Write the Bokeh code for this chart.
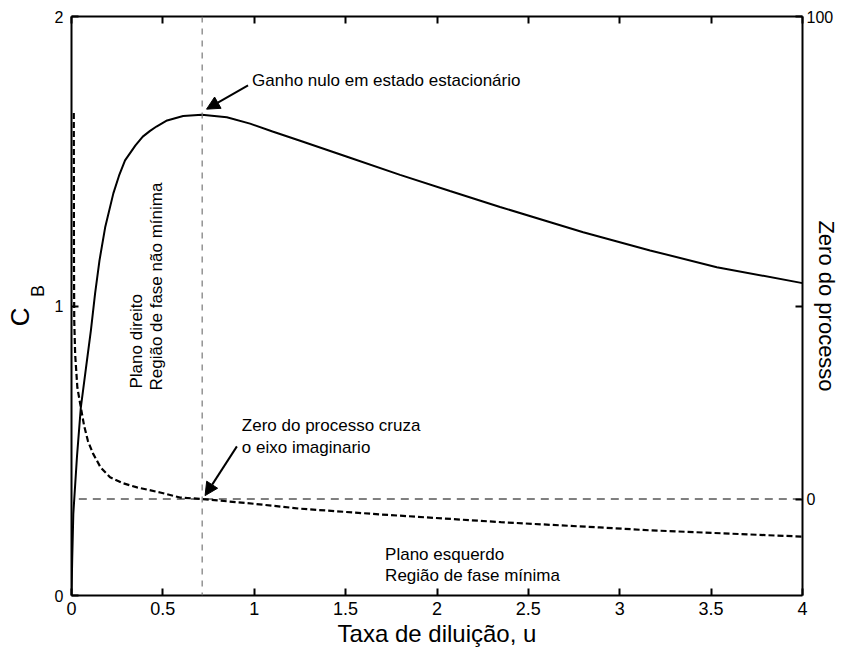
import math
from bokeh.plotting import figure
from bokeh.models import Range1d, LinearAxis, FixedTicker, Label, Arrow, NormalHead, Span
from bokeh.embed import file_html
from bokeh.resources import INLINE

FONT = "Liberation Sans"
NBSP = "\u00a0"

# ---- data ----
u_cb = [0.0, 0.004, 0.010, 0.030, 0.051, 0.080, 0.106, 0.129, 0.153, 0.184, 0.229,
        0.260, 0.293, 0.350, 0.390, 0.430, 0.465, 0.523, 0.611, 0.713, 0.850, 0.977,
        1.100, 1.251, 1.524, 1.798, 2.071, 2.345, 2.800, 3.166, 3.531, 4.0]
cb = [0.0, 0.13, 0.283, 0.48, 0.649, 0.79, 0.915, 1.043, 1.157, 1.271, 1.389,
      1.450, 1.503, 1.555, 1.585, 1.605, 1.620, 1.641, 1.656, 1.661, 1.652, 1.630,
      1.603, 1.571, 1.512, 1.453, 1.397, 1.342, 1.255, 1.192, 1.134, 1.079]

u_zero = [0.0125, 0.0135, 0.015, 0.020, 0.032, 0.051, 0.069, 0.090, 0.118, 0.160,
          0.211, 0.280, 0.359, 0.485, 0.594, 0.715, 1.0, 1.25, 1.69, 2.35, 2.89, 3.17, 4.0]
zero = [80.0, 50.0, 37.0, 30.0, 23.1, 19.0, 15.2, 12.0, 9.4, 6.5,
        4.5, 3.3, 2.4, 1.35, 0.3, 0.0, -1.0, -2.0, -3.2, -4.8, -5.9, -6.5, -7.8]

x_ticks = [0, 0.5, 1, 1.5, 2, 2.5, 3, 3.5, 4]
x_tick_labels = ["0", "0.5", "1", "1.5", "2", "2.5", "3", "3.5", "4"]
left_ticks = [0, 1, 2]
right_ticks = [0, 40, 100]
right_tick_labels = {0: "0", 40: "", 100: "100"}

u_crit = 0.715          # u where gain is zero / zero crosses the imaginary axis
zero_level = 0.0

# ---- figure ----
p = figure(frame_width=731, frame_height=579, output_backend="svg",
           toolbar_location=None, x_range=Range1d(0, 4), y_range=Range1d(0, 2),
           min_border_left=71, min_border_right=44, min_border_top=16,
           min_border_bottom=57, background_fill_color="white",
           border_fill_color="white")
p.extra_y_ranges = {"z": Range1d(-20, 100)}
p.xgrid.visible = False
p.ygrid.visible = False
p.outline_line_color = None

def style_axis(ax, size):
    ax.axis_line_width = 2
    ax.axis_line_color = "black"
    ax.major_tick_in = 7
    ax.major_tick_out = 0
    ax.major_tick_line_width = 2
    ax.minor_tick_line_color = None
    ax.major_label_text_font = FONT
    ax.major_label_text_font_size = size
    ax.major_label_text_color = "black"
    ax.axis_label_text_font = FONT
    ax.axis_label_text_font_style = "normal"
    ax.axis_label_text_color = "black"

xa = p.xaxis[0]
xa.ticker = FixedTicker(ticks=x_ticks)
xa.major_label_overrides = {t: l for t, l in zip(x_ticks, x_tick_labels)}
style_axis(xa, "18px")
xa.major_label_standoff = 6
xa.axis_label = "Taxa de diluição, u"
xa.axis_label_text_font_size = "24px"
xa.axis_label_standoff = 2

# left axis: its own label is the subscript "B" (shifted up with no-break spaces)
ya = p.yaxis[0]
ya.ticker = FixedTicker(ticks=left_ticks)
style_axis(ya, "16px")
ya.major_label_standoff = 8
ya.axis_label = NBSP * 6 + "B"
ya.axis_label_text_font_size = "18px"
ya.axis_label_standoff = 4

# outer left axis carrying only the "C" of C_B
outer = LinearAxis(ticker=FixedTicker(ticks=[]), axis_line_color=None,
                   major_tick_line_color=None, minor_tick_line_color=None,
                   axis_label="C" + NBSP * 3, axis_label_standoff=-10,
                   major_label_standoff=0)
outer.axis_label_text_font = FONT
outer.axis_label_text_font_size = "26px"
outer.axis_label_text_font_style = "normal"
outer.axis_label_text_color = "black"
p.add_layout(outer, "left")

top = LinearAxis(ticker=FixedTicker(ticks=x_ticks))
style_axis(top, "0px")
top.major_label_standoff = 0
top.major_label_overrides = {t: "" for t in x_ticks}
p.add_layout(top, "above")

right = LinearAxis(y_range_name="z", ticker=FixedTicker(ticks=right_ticks))
style_axis(right, "16px")
right.major_label_overrides = right_tick_labels
right.major_label_standoff = 4
right.axis_label = "Zero do processo"
right.axis_label_text_font_size = "22px"
right.axis_label_standoff = -22
p.add_layout(right, "right")

# reference lines
p.add_layout(Span(location=u_crit, dimension="height", line_color="#777777",
                  line_width=1.2, line_dash="6 6"))
p.line([0.04, 4.0], [zero_level, zero_level], y_range_name="z", line_color="black",
       line_width=1, line_dash="8 6")

# curves
p.line(u_cb, cb, line_color="black", line_width=2)
p.line(u_zero, zero, y_range_name="z", line_color="black", line_width=2.2,
       line_dash="6 3")

# annotations
def lab(x, y, text, size="17px", angle=0.0, align="left", baseline="alphabetic"):
    p.add_layout(Label(x=x, y=y, text=text, text_font=FONT, text_font_size=size,
                       angle=angle, text_align=align, text_baseline=baseline,
                       text_color="black"))

lab(0.988, 1.779, "Ganho nulo em estado estacionário")
p.add_layout(Arrow(end=NormalHead(size=13, fill_color="black", line_color="black"),
                   x_start=0.966, y_start=1.762, x_end=0.739, y_end=1.680,
                   line_width=2, line_color="black"))

lab(0.932, 0.587, "Zero do processo cruza")
lab(0.932, 0.512, "o eixo imaginario")
p.add_layout(Arrow(end=NormalHead(size=13, fill_color="black", line_color="black"),
                   x_start=0.905, y_start=0.515, x_end=0.731, y_end=0.345,
                   line_width=2, line_color="black"))

lab(1.716, 0.143, "Plano esquerdo")
lab(1.716, 0.069, "Região de fase mínima")

lab(0.354, 0.715, "Plano direito", angle=math.pi / 2)
lab(0.463, 0.708, "Região de fase não mínima", angle=math.pi / 2)

open("out.html", "w").write(file_html(p, INLINE))
